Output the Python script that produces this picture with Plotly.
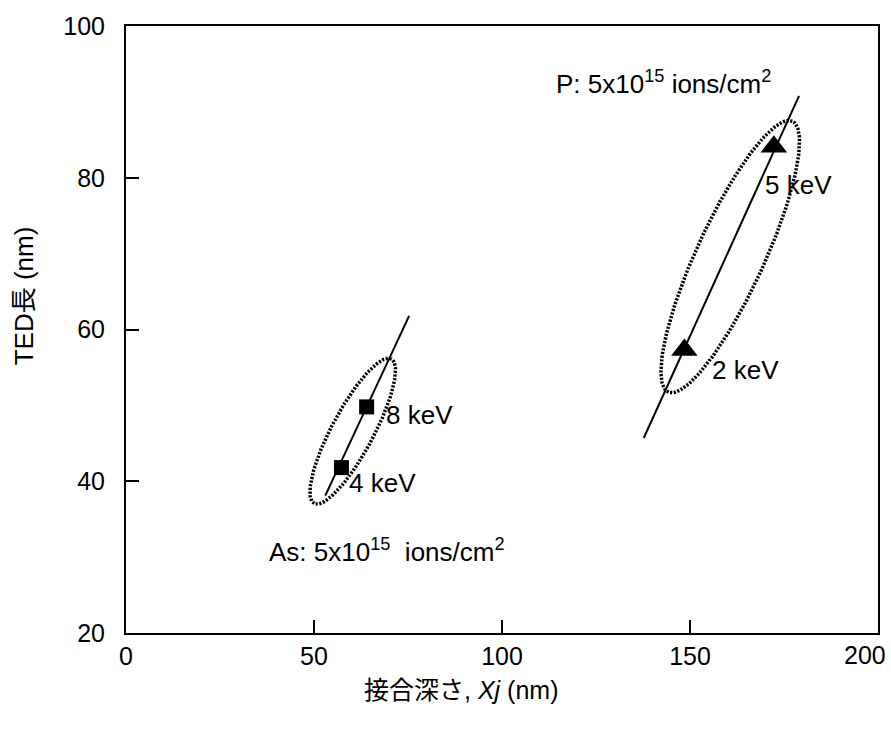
import numpy as np
import plotly.graph_objects as go

# Measured points: junction depth Xj (nm) vs TED length (nm)
as_energy = ["4 keV", "8 keV"]
as_xj = [57.3, 64.0]
as_ted = [41.8, 49.8]

p_energy = ["2 keV", "5 keV"]
p_xj = [148.5, 172.3]
p_ted = [57.3, 84.1]

# Trend lines drawn through each group
as_fit_x = [53.0, 75.3]
as_fit_y = [38.1, 61.8]
p_fit_x = [137.7, 179.0]
p_fit_y = [45.7, 90.8]

# x tick at 200 sits on the frame corner; its label is placed separately to stay on the page
x_ticks = [0, 50, 100, 150]
x_last_label = "200"
y_ticks = [20, 40, 60, 80, 100]

W, H = 891, 730
L, R, T, B = 126, 11, 26, 97
X_RANGE = (0, 200)
Y_RANGE = (20, 100)
kx = (W - L - R) / (X_RANGE[1] - X_RANGE[0])   # px per nm on x
ky = (H - T - B) / (Y_RANGE[1] - Y_RANGE[0])   # px per nm on y

FONT = "Liberation Sans, Arial, Noto Sans CJK JP, sans-serif"


def ellipse(cx, cy, a_px, b_px, angle_deg, n=240):
    """Ellipse outline in data coords, sized in screen pixels."""
    t = np.linspace(0, 2 * np.pi, n)
    th = np.deg2rad(angle_deg)
    u = a_px * np.cos(t)
    v = b_px * np.sin(t)
    dx = u * np.cos(th) - v * np.sin(th)
    dy = u * np.sin(th) + v * np.cos(th)
    return cx + dx / kx, cy + dy / ky


fig = go.Figure()

# grouping ellipses
for cx, cy, a, b, ang in [(60.3, 46.6, 82, 21, 61.8), (160.7, 69.6, 149, 34, 65.3)]:
    ex, ey = ellipse(cx, cy, a, b, ang)
    fig.add_trace(go.Scatter(x=ex, y=ey, mode="lines",
                             line=dict(color="black", width=3.5, dash="2.2px,1.5px"),
                             hoverinfo="skip", showlegend=False))

fig.add_trace(go.Scatter(x=as_fit_x, y=as_fit_y, mode="lines",
                         line=dict(color="black", width=2), showlegend=False))
fig.add_trace(go.Scatter(x=p_fit_x, y=p_fit_y, mode="lines",
                         line=dict(color="black", width=2), showlegend=False))

fig.add_trace(go.Scatter(x=as_xj, y=as_ted, mode="markers", name="As",
                         marker=dict(symbol="square", size=15, color="black"),
                         text=as_energy, showlegend=False))
fig.add_trace(go.Scatter(x=p_xj, y=p_ted, mode="markers", name="P",
                         marker=dict(symbol="triangle-up", size=23, color="black"),
                         text=p_energy, showlegend=False))

annots = []
# energy labels next to each point
label_pos = {"4 keV": (58.9, 39.8), "8 keV": (68.7, 48.7),
             "2 keV": (155.4, 54.7), "5 keV": (169.5, 79.05)}
for lab in as_energy + p_energy:
    lx, ly = label_pos[lab]
    annots.append(dict(x=lx, y=ly, xref="x", yref="y", text=lab, showarrow=False,
                       xanchor="left", yanchor="middle",
                       font=dict(family=FONT, size=26, color="black")))

annots.append(dict(x=113.8, y=92.6, xref="x", yref="y",
                   text="P: 5x10<sup>15</sup> ions/cm<sup>2</sup>", showarrow=False,
                   xanchor="left", yanchor="middle",
                   font=dict(family=FONT, size=26, color="black")))
annots.append(dict(x=37.4, y=30.9, xref="x", yref="y",
                   text="As: 5x10<sup>15</sup>  ions/cm<sup>2</sup>", showarrow=False,
                   xanchor="left", yanchor="middle",
                   font=dict(family=FONT, size=26, color="black")))

# right-most x tick label, pulled in from the page edge
annots.append(dict(x=1, y=0, xref="paper", yref="paper", text=x_last_label, showarrow=False,
                   xanchor="right", yanchor="top", xshift=10, yshift=-6,
                   font=dict(family=FONT, size=25, color="black")))

# axis titles
annots.append(dict(x=(462 - L) / (W - L - R), y=-(690 - (H - B)) / (H - T - B),
                   xref="paper", yref="paper", text="接合深さ, <i>Xj</i> (nm)",
                   showarrow=False, xanchor="center", yanchor="middle",
                   font=dict(family=FONT, size=25, color="black")))
annots.append(dict(x=-(L - 24) / (W - L - R), y=1 - (296 - T) / (H - T - B),
                   xref="paper", yref="paper", text="TED長 (nm)", textangle=-90,
                   showarrow=False, xanchor="center", yanchor="middle",
                   font=dict(family=FONT, size=26, color="black")))

axis_common = dict(showgrid=False, zeroline=False, showline=True, mirror=True,
                   linecolor="black", linewidth=2, ticks="inside", ticklen=13,
                   tickwidth=2, tickcolor="black",
                   tickfont=dict(family=FONT, size=25, color="black"))

fig.update_layout(
    width=W, height=H,
    margin=dict(l=L, r=R, t=T, b=B, pad=0),
    paper_bgcolor="white", plot_bgcolor="white",
    xaxis=dict(range=list(X_RANGE), tickvals=x_ticks, **axis_common),
    yaxis=dict(range=list(Y_RANGE), tickvals=y_ticks, ticklabelstandoff=14, **axis_common),
    annotations=annots,
    showlegend=False,
)

fig.write_html("out.html")
